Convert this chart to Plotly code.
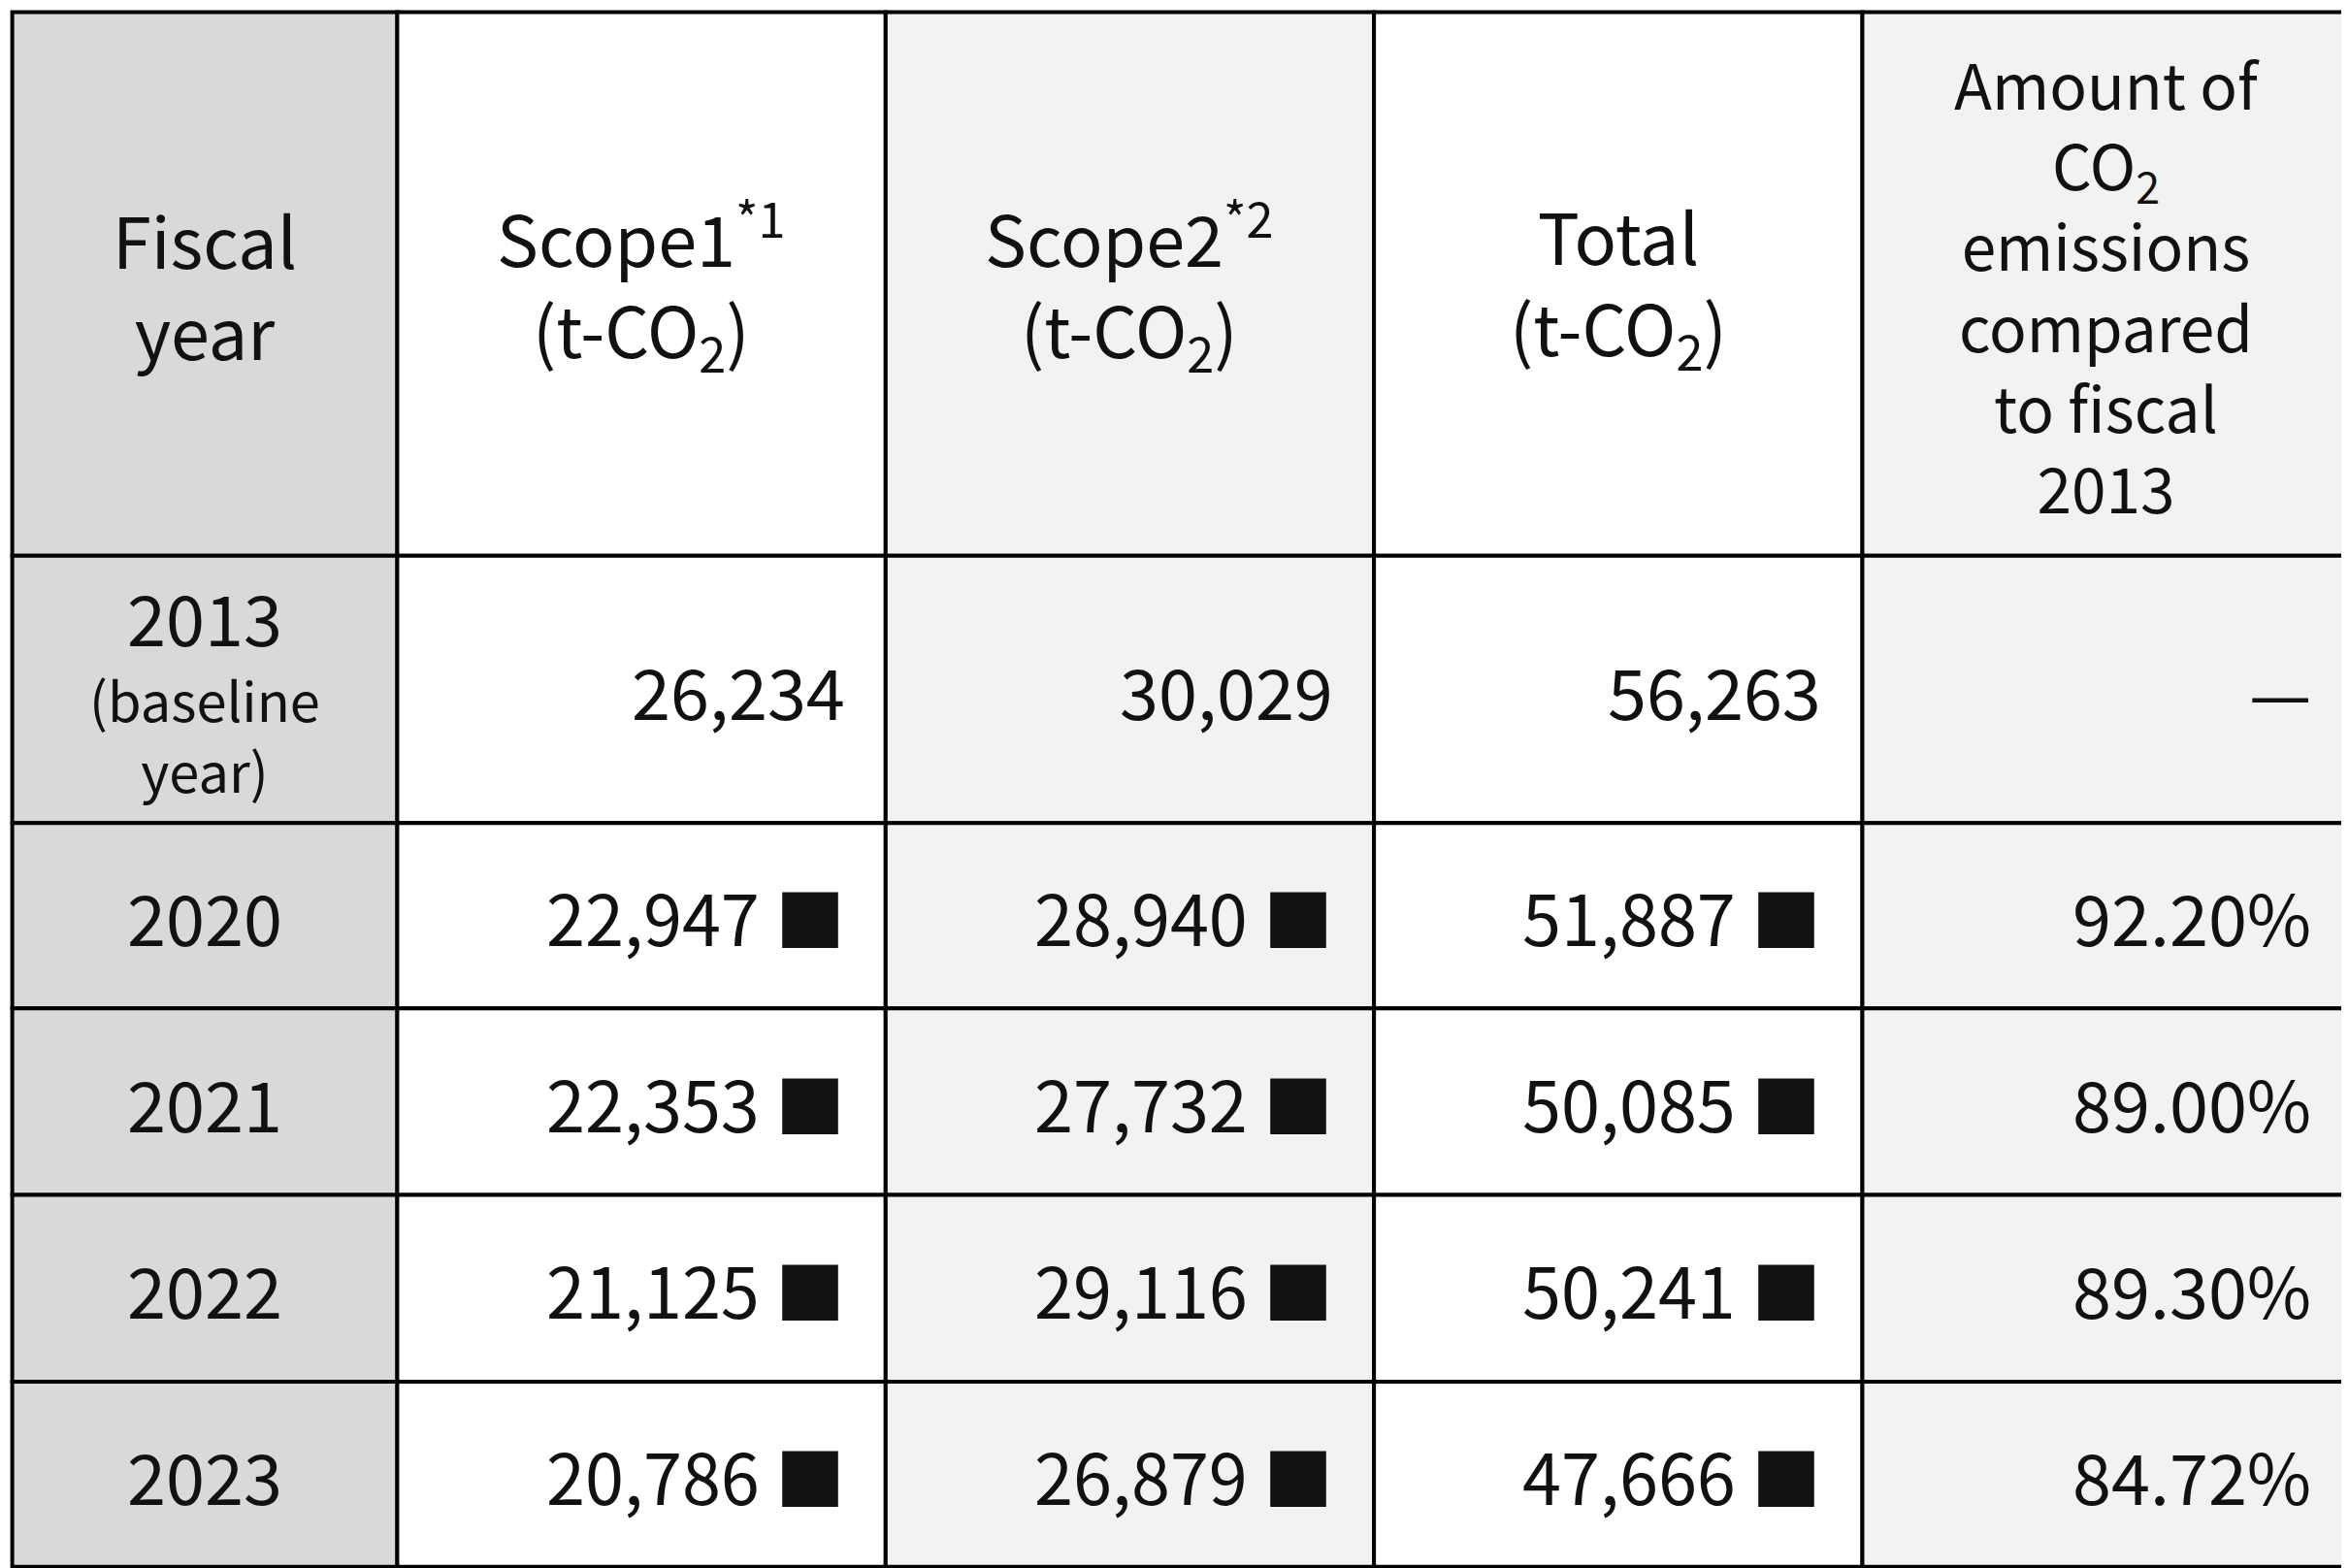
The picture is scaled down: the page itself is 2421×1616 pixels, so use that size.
import plotly.graph_objects as go

headers = ["Fiscal<br>year", "Scope1<sup>*1</sup><br>(t-CO<sub>2</sub>)", "Scope2<sup>*2</sup><br>(t-CO<sub>2</sub>)",
           "Total<br>(t-CO<sub>2</sub>)", "Amount of<br>CO<sub>2</sub><br>emissions<br>compared<br>to fiscal<br>2013"]
years = ["2013", "2020", "2021", "2022", "2023"]
baseline_note = "(baseline<br>year)"
scope1 = ["26,234", "22,947 ■", "22,353 ■", "21,125 ■", "20,786 ■"]
scope2 = ["30,029", "28,940 ■", "27,732 ■", "29,116 ■", "26,879 ■"]
total = ["56,263", "51,887 ■", "50,085 ■", "50,241 ■", "47,666 ■"]
ratio = ["—", "92.20%", "89.00%", "89.30%", "84.72%"]

col_x = [3, 260, 586, 912, 1238, 1565]
row_y = [3, 367, 546, 670, 795, 920, 1044]
col_fill = ["#d9d9d9", "#ffffff", "#f2f2f2", "#ffffff", "#f2f2f2"]
fam = "Noto Sans CJK JP, Inter, sans-serif"
font = dict(family=fam, size=72, color="#111")

fig = go.Figure()
shapes = []
ann = []
columns = [years, scope1, scope2, total, ratio]
for c in range(5):
    for r in range(6):
        shapes.append(dict(type="rect", xref="x", yref="y", x0=col_x[c], x1=col_x[c+1],
                           y0=row_y[r], y1=row_y[r+1], fillcolor=col_fill[c],
                           line=dict(color="black", width=4), layer="below"))
        ym = (row_y[r] + row_y[r+1]) / 2
        f = font
        if r == 0:
            txt, x, xa = headers[c], (col_x[c] + col_x[c+1]) / 2, "center"
            if c == 4:
                f = dict(font, size=64)
        else:
            txt = columns[c][r-1]
            if c == 0:
                x, xa = (col_x[c] + col_x[c+1]) / 2, "center"
                if r == 1:
                    ym = 407
                    ann.append(dict(x=x, y=486, xref="x", yref="y", text=baseline_note,
                                    showarrow=False, xanchor="center", yanchor="middle",
                                    align="center", font=dict(font, size=56)))
            else:
                x, xa = col_x[c+1] - 26, "right"
        ann.append(dict(x=x, y=ym, xref="x", yref="y",
                        text=txt, showarrow=False, xanchor=xa, yanchor="middle",
                        align="center", font=f))

fig.add_trace(go.Scatter(x=[0, 1568], y=[0, 1046], mode="markers", marker=dict(opacity=0), hoverinfo="skip"))
fig.update_layout(width=2421, height=1616, margin=dict(l=0, r=0, t=0, b=0, pad=0),
                  plot_bgcolor="white", paper_bgcolor="white", showlegend=False,
                  shapes=shapes, annotations=ann,
                  xaxis=dict(range=[0, 1568], visible=False, fixedrange=True),
                  yaxis=dict(range=[1050, 0], visible=False, fixedrange=True))
fig.write_html("out.html")
